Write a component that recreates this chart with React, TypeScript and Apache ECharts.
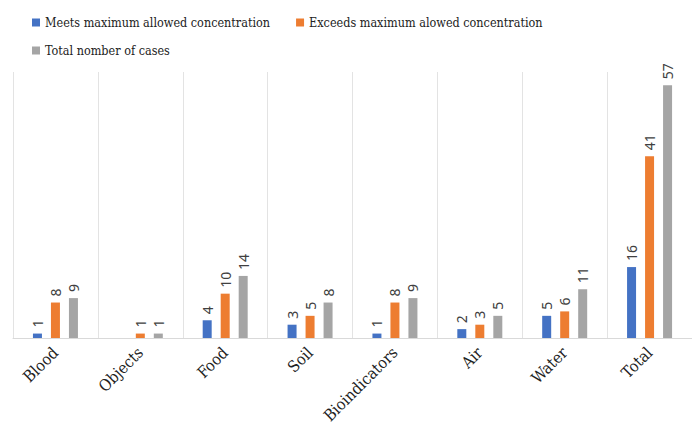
import React, { useEffect, useRef } from "react";
import * as echarts from "echarts";

const categories = ["Blood", "Objects", "Food", "Soil", "Bioindicators", "Air", "Water", "Total"];
const meetsValues = [1, null, 4, 3, 1, 2, 5, 16];
const exceedsValues = [8, 1, 10, 5, 8, 3, 6, 41];
const totalValues = [9, 1, 14, 8, 9, 5, 11, 57];
const seriesNames = [
  "Meets maximum allowed concentration",
  "Exceeds maximum alowed concentration",
  "Total nomber of cases",
];
const colors = ["#4472C4", "#ED7D31", "#A5A5A5"];
const SERIF_C = "'DejaVu Serif Condensed', 'DejaVu Serif'";

export default function App() {
  const ref = useRef<HTMLDivElement>(null);
  useEffect(() => {
    if (!ref.current) return;
    const chart = echarts.init(ref.current, null, { renderer: "svg" });
    const label = {
      show: true,
      position: "top",
      rotate: 90,
      align: "left",
      verticalAlign: "middle",
      distance: 6,
      color: "#404040",
      fontFamily: "Noto Sans",
      fontSize: 14,
    };
    const mk = (name: string, data: (number | null)[], color: string) => ({
      name,
      type: "bar",
      data,
      barWidth: 9,
      barGap: "100%",
      itemStyle: { color },
      label,
    });
    const legendBase = {
      itemWidth: 8,
      itemHeight: 8,
      itemGap: 26,
      icon: "rect",
      textStyle: { fontFamily: SERIF_C, fontSize: 12.5, color: "#222" },
    };
    chart.setOption({
      animation: false,
      color: colors,
      legend: [
        { ...legendBase, left: 27, top: 11, data: [seriesNames[0], seriesNames[1]] },
        { ...legendBase, left: 27, top: 39, data: [seriesNames[2]] },
      ],
      grid: { left: 13, top: 72, bottom: 95, width: 690 },
      xAxis: {
        type: "category",
        data: categories,
        axisLine: { show: true, lineStyle: { color: "#d9d9d9" } },
        axisTick: { show: false },
        splitLine: { show: true, interval: 0, lineStyle: { color: "#e3e3e3" } },
        axisLabel: {
          interval: 0,
          rotate: 45,
          margin: 12,
          fontFamily: SERIF_C,
          fontSize: 16,
          color: "#222",
        },
      },
      yAxis: {
        type: "value",
        min: 0,
        max: 60,
        show: false,
        splitLine: { show: false },
      },
      series: [
        mk(seriesNames[0], meetsValues, colors[0]),
        mk(seriesNames[1], exceedsValues, colors[1]),
        mk(seriesNames[2], totalValues, colors[2]),
      ],
    });
    return () => chart.dispose();
  }, []);
  return (
    <div
      ref={ref}
      style={{ position: "fixed", left: 0, top: 0, width: 692, height: 433, background: "#fff" }}
    />
  );
}
